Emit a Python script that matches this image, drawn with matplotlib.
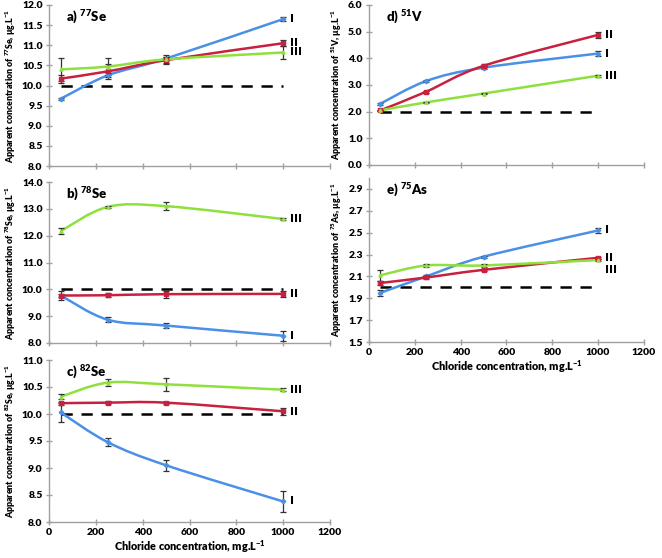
import numpy as np
import matplotlib
matplotlib.use("Agg")
import matplotlib.pyplot as plt
from matplotlib.path import Path
from matplotlib.patches import PathPatch

plt.rcParams['font.family'] = ['Lato', 'DejaVu Sans']
plt.rcParams['font.weight'] = 'heavy'
plt.rcParams['mathtext.fontset'] = 'custom'
plt.rcParams['mathtext.rm'] = 'Lato:heavy'
plt.rcParams['mathtext.bf'] = 'Lato:heavy'
plt.rcParams['mathtext.it'] = 'Lato:heavy'

chloride = [50, 250, 500, 1000]

# a) 77Se
se77_I = [9.67, 10.25, 10.67, 11.65]
se77_II = [10.17, 10.35, 10.63, 11.05]
se77_III = [10.40, 10.47, 10.65, 10.82]
se77_I_err = [0.03, 0.05, 0.05, 0.04]
se77_II_err = [0.10, 0.18, 0.08, 0.08]
se77_III_err = [0.28, 0.22, 0.12, 0.17]

# b) 78Se
se78_I = [9.77, 8.87, 8.65, 8.27]
se78_II = [9.77, 9.78, 9.82, 9.83]
se78_III = [12.17, 13.07, 13.10, 12.62]
se78_I_err = [0.05, 0.10, 0.10, 0.18]
se78_II_err = [0.17, 0.07, 0.13, 0.10]
se78_III_err = [0.10, 0.05, 0.15, 0.04]

# c) 82Se
se82_I = [10.03, 9.48, 9.05, 8.38]
se82_II = [10.20, 10.21, 10.21, 10.05]
se82_III = [10.32, 10.58, 10.55, 10.45]
se82_I_err = [0.17, 0.07, 0.10, 0.19]
se82_II_err = [0.03, 0.03, 0.02, 0.07]
se82_III_err = [0.05, 0.06, 0.12, 0.03]

# d) 51V
v51_I = [2.30, 3.15, 3.65, 4.18]
v51_II = [2.05, 2.75, 3.72, 4.88]
v51_III = [2.05, 2.35, 2.68, 3.35]
v51_I_err = [0.04, 0.04, 0.05, 0.08]
v51_II_err = [0.03, 0.04, 0.05, 0.10]
v51_III_err = [0.03, 0.03, 0.03, 0.04]

# e) 75As
as75_I = [1.95, 2.10, 2.28, 2.52]
as75_II = [2.04, 2.09, 2.16, 2.27]
as75_III = [2.11, 2.20, 2.20, 2.25]
as75_I_err = [0.03, 0.01, 0.01, 0.02]
as75_II_err = [0.02, 0.01, 0.01, 0.01]
as75_III_err = [0.05, 0.01, 0.01, 0.01]

reference_level_se = 10.0
reference_level_v_as = 2.0
series_names = ['I', 'II', 'III']

BLUE = '#4a90e6'
RED = '#c8203f'
GREEN = '#8ee03c'
AXC = '#a0a0a0'

W, H = 662, 558
fig = plt.figure(figsize=(W / 100, H / 100), dpi=100)


def add_ax(x0, x1, ytop, ybot):
    return fig.add_axes([x0 / W, 1 - ybot / H, (x1 - x0) / W, (ybot - ytop) / H])


def smooth_line(ax, xs, ys, color):
    pts = np.column_stack([xs, ys]).astype(float)
    n = len(pts)
    verts = [pts[0]]
    codes = [Path.MOVETO]
    for i in range(n - 1):
        p0 = pts[i - 1] if i > 0 else pts[i]
        p1 = pts[i]
        p2 = pts[i + 1]
        p3 = pts[i + 2] if i + 2 < n else pts[i + 1]
        c1 = p1 + (p2 - p0) / 6.0
        c2 = p2 - (p3 - p1) / 6.0
        verts += [c1, c2, p2]
        codes += [Path.CURVE4] * 3
    patch = PathPatch(Path(verts, codes), facecolor='none', edgecolor=color,
                      lw=1.8, transform=ax.transData, zorder=3)
    ax.add_patch(patch)


def panel(ax, series, errs, ylim, yticks, ref, title, ylabel, labels_y,
          show_xlabels, fmt):
    colors = [BLUE, RED, GREEN]
    markers = ['D', 's', '^']
    ax.plot([chloride[0], chloride[-1]], [ref, ref], color='black', lw=1.8,
            dashes=(4.5, 3.5), zorder=2)
    for s, e, c, m in zip(series, errs, colors, markers):
        smooth_line(ax, chloride, s, c)
        ax.errorbar(chloride, s, yerr=e, fmt='none', ecolor='#333333',
                    elinewidth=0.9, capsize=2, capthick=0.9, zorder=4)
        ax.plot(chloride, s, ls='none', marker=m, ms=2.3, color=c, zorder=5)
    for name, ly in zip(series_names, labels_y):
        ax.text(1030, ly, name, fontsize=8, fontweight='bold', va='center',
                ha='left', family='DejaVu Sans')
    ax.set_xlim(0, 1200)
    ax.set_ylim(*ylim)
    ax.set_xticks([0, 200, 400, 600, 800, 1000, 1200])
    ax.set_yticks(yticks)
    ax.set_yticklabels([fmt.format(v) for v in yticks])
    for sp in ['top', 'right']:
        ax.spines[sp].set_visible(False)
    for sp in ['left', 'bottom']:
        ax.spines[sp].set_color(AXC)
        ax.spines[sp].set_linewidth(1.0)
    ax.tick_params(axis='both', direction='inout', length=5, width=1.0,
                   color=AXC, labelsize=7.5, pad=2)
    for lab in ax.get_yticklabels() + ax.get_xticklabels():
        lab.set_fontweight('heavy')
    if show_xlabels:
        ax.set_xlabel('Chloride concentration, mg.L$^{-1}$', fontsize=7.8,
                      fontweight='heavy', labelpad=1)
    else:
        ax.tick_params(axis='x', labelbottom=False)
    ax.text(0.06, 0.975, title, transform=ax.transAxes, fontsize=9.5,
            fontweight='heavy', ha='left', va='top')
    ax.set_ylabel(ylabel, fontsize=6.3, fontweight='heavy', labelpad=3)


ax_a = add_ax(49, 330, 5, 166)
ax_b = add_ax(49, 330, 182, 343)
ax_c = add_ax(49, 330, 360, 522)
ax_d = add_ax(369, 644, 5, 165)
ax_e = add_ax(369, 644, 178, 342)

panel(ax_a, [se77_I, se77_II, se77_III], [se77_I_err, se77_II_err, se77_III_err],
      (8.0, 12.0), np.arange(8.0, 12.01, 0.5), reference_level_se,
      'a) $^{77}$Se', 'Apparent concentration of $^{77}$Se, µg.L$^{-1}$',
      [11.65, 11.05, 10.82], False, '{:.1f}')
panel(ax_b, [se78_I, se78_II, se78_III], [se78_I_err, se78_II_err, se78_III_err],
      (8.0, 14.0), np.arange(8.0, 14.01, 1.0), reference_level_se,
      'b) $^{78}$Se', 'Apparent concentration of $^{78}$Se, µg.L$^{-1}$',
      [8.27, 9.83, 12.62], False, '{:.1f}')
panel(ax_c, [se82_I, se82_II, se82_III], [se82_I_err, se82_II_err, se82_III_err],
      (8.0, 11.0), np.arange(8.0, 11.01, 0.5), reference_level_se,
      'c) $^{82}$Se', 'Apparent concentration of $^{82}$Se, µg.L$^{-1}$',
      [8.38, 10.03, 10.45], True, '{:.1f}')
panel(ax_d, [v51_I, v51_II, v51_III], [v51_I_err, v51_II_err, v51_III_err],
      (0.0, 6.0), np.arange(0.0, 6.01, 1.0), reference_level_v_as,
      'd) $^{51}$V', 'Apparent concentration of $^{51}$V, µg.L$^{-1}$',
      [4.18, 4.88, 3.35], False, '{:.1f}')
panel(ax_e, [as75_I, as75_II, as75_III], [as75_I_err, as75_II_err, as75_III_err],
      (1.5, 3.0), np.arange(1.5, 2.91, 0.2), reference_level_v_as,
      'e) $^{75}$As', 'Apparent concentration of $^{75}$As, µg.L$^{-1}$',
      [2.52, 2.27, 2.16], True, '{:.1f}')

fig.savefig('out.png', dpi=100)
